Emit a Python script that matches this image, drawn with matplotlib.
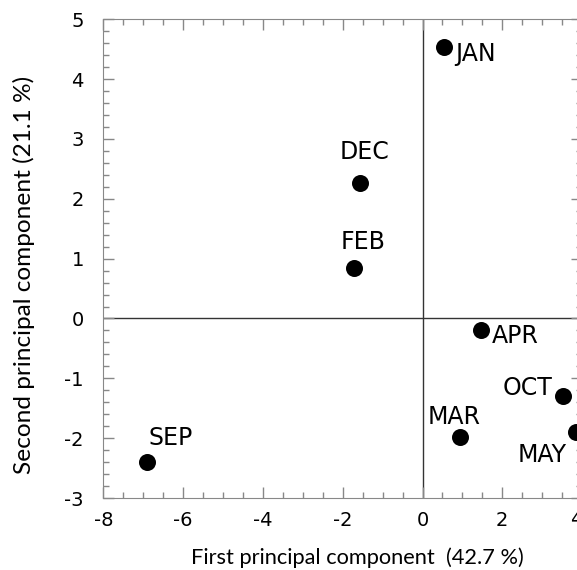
import matplotlib
matplotlib.use("Agg")
import matplotlib.pyplot as plt
from matplotlib.ticker import MultipleLocator, FixedLocator

plt.rcParams["axes.unicode_minus"] = False

months = ["JAN", "DEC", "FEB", "APR", "OCT", "MAR", "MAY", "SEP"]
pc1 = [0.53, -1.56, -1.71, 1.47, 3.52, 0.95, 3.84, -6.91]
pc2 = [4.54, 2.27, 0.84, -0.19, -1.30, -1.98, -1.90, -2.40]
x_ticks = [-8, -6, -4, -2, 0, 2, 4]
y_ticks = [-3, -2, -1, 0, 1, 2, 3, 4, 5]
x_title = "First principal component  (42.7 %)"
y_title = "Second principal component (21.1 %)"

# label offsets in pixels (dx, dy) and alignment
offsets = {
    "JAN": (12, -7, "left"),
    "DEC": (4, 31, "center"),
    "FEB": (9, 26, "center"),
    "APR": (11, -6, "left"),
    "OCT": (-10, 8, "right"),
    "MAR": (-6, 20, "center"),
    "MAY": (-34, -23, "center"),
    "SEP": (24, 24, "center"),
}

W, H = 577, 570
fig = plt.figure(figsize=(W / 100, H / 100), dpi=100)
left, right, top, bottom = 103.3, 582.1, 19.3, 498.0
ax = fig.add_axes([left / W, (H - bottom) / H, (right - left) / W, (bottom - top) / H])
ax.set_xlim(-8, 4)
ax.set_ylim(-3, 5)
ax.axhline(0, color="#333333", lw=1.0, zorder=1)
ax.axvline(0, color="#333333", lw=1.0, zorder=1)
ax.scatter(pc1, pc2, s=150, color="black", zorder=3, clip_on=False, linewidths=0)
for m, x, y in zip(months, pc1, pc2):
    dx, dy, ha = offsets[m]
    ax.annotate(m, (x, y), xytext=(dx, dy), textcoords="offset pixels",
                ha=ha, va="center", fontsize=17, color="black",
                annotation_clip=False)

ax.xaxis.set_major_locator(FixedLocator(x_ticks))
ax.xaxis.set_minor_locator(MultipleLocator(0.5))
ax.yaxis.set_major_locator(FixedLocator(y_ticks))
ax.yaxis.set_minor_locator(MultipleLocator(0.2))
ax.set_xticklabels([str(t) if t != 4 else "" for t in x_ticks])
ax.set_yticklabels([str(t) for t in y_ticks])
ax.tick_params(which="both", direction="in", top=True, right=True, color="#888888", width=1.0)
ax.tick_params(which="major", length=8, labelsize=14)
ax.tick_params(which="minor", length=4)
ax.tick_params(axis="x", which="major", pad=9)
ax.tick_params(axis="y", which="major", pad=14)
for s in ax.spines.values():
    s.set_color("#888888")
# the "4" label sits at the cropped right edge
ax.annotate("4", xy=(4, 0), xycoords=("data", "axes fraction"), xytext=(-6, -12),
            textcoords="offset pixels", ha="center", va="top", fontsize=14,
            annotation_clip=False)

fig.text(357 / W, 1 - 558 / H, x_title, family="Lato", fontsize=15.7,
         ha="center", va="center")
fig.text(24 / W, 1 - 275 / H, y_title, family="Lato", fontsize=17.6,
         ha="center", va="center", rotation=90)
fig.savefig("out.png", dpi=100)
